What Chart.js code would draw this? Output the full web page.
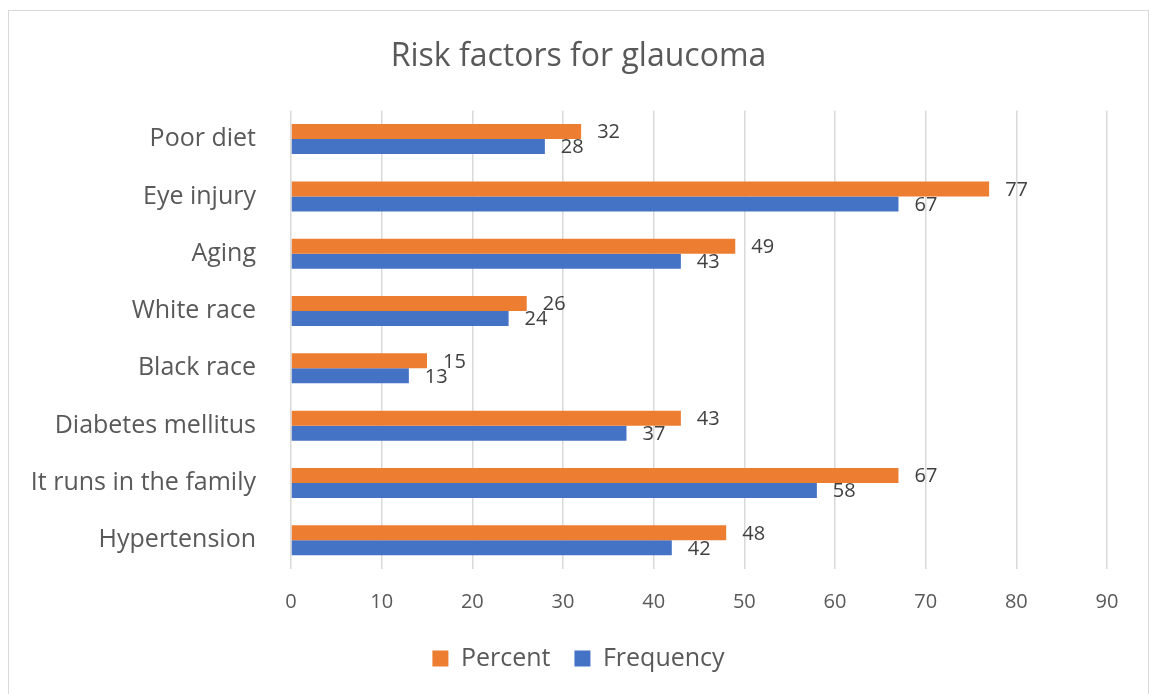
<!DOCTYPE html>
<html>
<head>
<meta charset="utf-8">
<script src="https://cdn.jsdelivr.net/npm/chart.js@4.4.1/dist/chart.umd.min.js"></script>
<style>
  html, body { margin: 0; padding: 0; background: #fff; }
  #frame {
    position: absolute; left: 8px; top: 10px;
    width: 1139px; height: 683px;
    border: 1px solid #d9d9d9;
  }
  #frame canvas { display: block; }
</style>
</head>
<body>
<div id="frame"><canvas id="myChart" width="1139" height="683"></canvas></div>
<script>
// Data
const categories = ["Poor diet", "Eye injury", "Aging", "White race", "Black race",
    "Diabetes mellitus", "It runs in the family", "Hypertension"];
const percentValues = [32, 77, 49, 26, 15, 43, 67, 48];
const frequencyValues = [28, 67, 43, 24, 13, 37, 58, 42];
const xTicks = [0, 10, 20, 30, 40, 50, 60, 70, 80, 90];

const fontFamily = "'Open Sans', 'Noto Sans', sans-serif";

// Draw the value labels to the right of each bar
const barValueLabels = {
    id: 'barValueLabels',
    afterDatasetsDraw(chart) {
        const ctx = chart.ctx;
        ctx.save();
        ctx.font = "20px " + fontFamily;
        ctx.fillStyle = "#404040";
        ctx.textAlign = "left";
        ctx.textBaseline = "middle";
        chart.data.datasets.forEach(function (ds, i) {
            const meta = chart.getDatasetMeta(i);
            meta.data.forEach(function (bar, j) {
                ctx.fillText(ds.data[j], bar.x + 16, bar.y + 1);
            });
        });
        ctx.restore();
    }
};

const ctx = document.getElementById("myChart").getContext("2d");
new Chart(ctx, {
    type: 'bar',
    data: {
        labels: categories,
        datasets: [{
            label: 'Percent',
            data: percentValues,
            backgroundColor: '#ED7D31',
            categoryPercentage: 0.523,
            barPercentage: 1
        }, {
            label: 'Frequency',
            data: frequencyValues,
            backgroundColor: '#4472C4',
            categoryPercentage: 0.523,
            barPercentage: 1
        }]
    },
    options: {
        indexAxis: 'y',
        responsive: false,
        animation: false,
        layout: { padding: { left: 20, right: 20, top: 0, bottom: 13 } },
        plugins: {
            title: {
                display: true,
                text: 'Risk factors for glaucoma',
                color: '#595959',
                font: { family: fontFamily, size: 32, weight: 'normal' },
                padding: { top: 27, bottom: 34 }
            },
            legend: {
                position: 'bottom',
                labels: {
                    color: '#595959',
                    font: { family: fontFamily, size: 25 },
                    boxWidth: 16,
                    boxHeight: 16,
                    padding: 24
                }
            },
            tooltip: { enabled: false }
        },
        scales: {
            x: {
                min: 0,
                max: 90,
                afterBuildTicks: function (axis) {
                    axis.ticks = xTicks.map(function (v) { return { value: v }; });
                },
                afterFit: function (axis) {
                    axis.height = 53;
                    axis.paddingRight = 41;
                },
                grid: { color: '#d9d9d9', lineWidth: 1.5, drawTicks: false },
                border: { display: false },
                ticks: {
                    color: '#595959',
                    padding: 21,
                    font: { family: fontFamily, size: 20 }
                }
            },
            y: {
                afterFit: function (axis) { axis.width = 262; },
                grid: { display: false, drawTicks: false },
                border: { display: false },
                ticks: {
                    color: '#595959',
                    padding: 35,
                    font: { family: fontFamily, size: 25 }
                }
            }
        }
    },
    plugins: [barValueLabels]
});
</script>
</body>
</html>
